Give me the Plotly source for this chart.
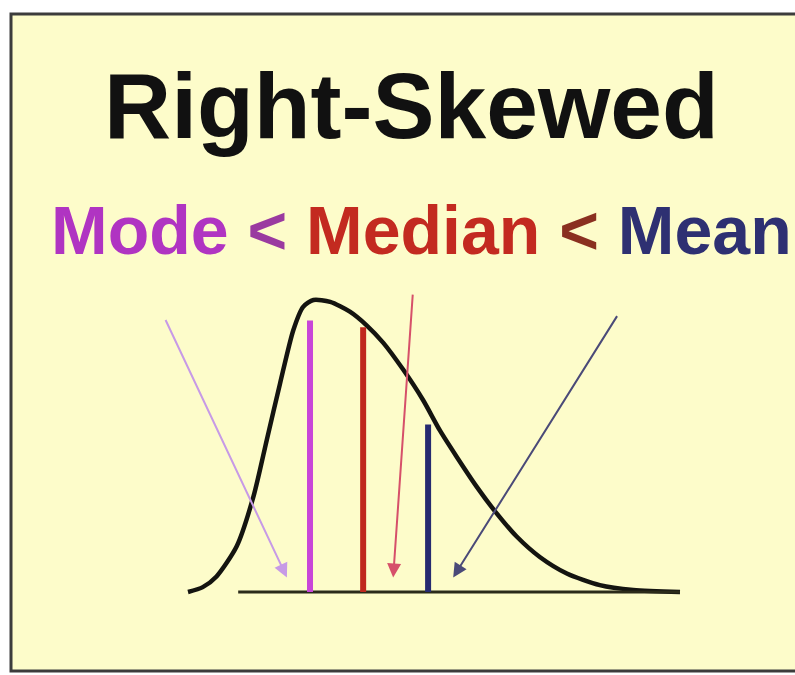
import plotly.graph_objects as go

# Right-skewed density curve (value, density)
curve_x = [0.0, 0.30, 0.58, 0.99, 1.33, 1.60, 1.87, 2.14, 2.34, 2.55, 2.89, 3.29,
           3.63, 3.97, 4.38, 4.78, 5.12, 5.46, 5.87, 6.27, 6.68, 7.15, 7.70, 8.37,
           9.05, 10.0]
curve_y = [0.000, 0.005, 0.016, 0.047, 0.098, 0.156, 0.214, 0.269, 0.293, 0.300,
           0.298, 0.288, 0.274, 0.256, 0.228, 0.197, 0.166, 0.139, 0.108, 0.081,
           0.057, 0.036, 0.019, 0.007, 0.002, 0.000]

# Horizontal axis line under the curve
baseline_x = [1.02, 10.0]

# Centre measures: name, position, line height, line colour, arrow colour
measure_names = ["Mode", "Median", "Mean"]
measure_x = [2.48, 3.56, 4.88]
measure_top = [0.279, 0.272, 0.172]
measure_colors = ["#c845d8", "#c0281e", "#262a70"]
text_colors = ["#b034c2", "#c32a20", "#2e3072"]
arrow_colors = ["#c79ae6", "#d6506a", "#4a4a78"]

# Arrow tails (value, density) and heads
arrow_tail_x = [-0.47, 4.57, 8.74]
arrow_tail_y = [0.281, 0.307, 0.285]
arrow_head_x = [2.01, 4.17, 5.39]
arrow_head_y = [0.015, 0.015, 0.015]

title_text = "Right-Skewed"
sep_colors = ["#9a3aa0", "#8a3020"]

W, H = 795, 675

fig = go.Figure()

fig.add_trace(go.Scatter(
    x=curve_x, y=curve_y, mode="lines",
    line=dict(color="#141410", width=4.5, shape="spline", smoothing=0.7),
    hoverinfo="skip", showlegend=False,
))

fig.add_trace(go.Scatter(
    x=baseline_x, y=[0, 0], mode="lines",
    line=dict(color="#2b2b1a", width=3),
    hoverinfo="skip", showlegend=False,
))

for name, mx, top, col in zip(measure_names, measure_x, measure_top, measure_colors):
    fig.add_trace(go.Scatter(
        x=[mx, mx], y=[0, top], mode="lines", name=name,
        line=dict(color=col, width=6),
        hoverinfo="skip", showlegend=False,
    ))

for tx, ty, hx, hy, col in zip(arrow_tail_x, arrow_tail_y, arrow_head_x, arrow_head_y, arrow_colors):
    fig.add_annotation(
        x=hx, y=hy, ax=tx, ay=ty, xref="x", yref="y", axref="x", ayref="y",
        text="", showarrow=True, arrowhead=2, arrowsize=1.4, arrowwidth=2,
        arrowcolor=col, standoff=0,
    )

# Title and ordering statement
fig.add_annotation(
    x=411 / W, y=1 - 106 / H, xref="paper", yref="paper",
    text="<b>" + title_text + "</b>", showarrow=False,
    xanchor="center", yanchor="middle",
    font=dict(family="Liberation Sans, Arial, sans-serif", size=93, color="#111111"),
)

subtitle = (
    f'<span style="color:{text_colors[0]}">{measure_names[0]}</span>'
    f' <span style="color:{sep_colors[0]}">&lt;</span> '
    f'<span style="color:{text_colors[1]}">{measure_names[1]}</span>'
    f' <span style="color:{sep_colors[1]}">&lt;</span> '
    f'<span style="color:{text_colors[2]}">{measure_names[2]}</span>'
)
fig.add_annotation(
    x=421 / W, y=1 - 230 / H, xref="paper", yref="paper",
    text="<b>" + subtitle + "</b>", showarrow=False,
    xanchor="center", yanchor="middle",
    font=dict(family="Liberation Sans, Arial, sans-serif", size=68),
)

# Framed light-yellow panel
fig.add_shape(
    type="rect", xref="paper", yref="paper",
    x0=11 / W, x1=1.02, y0=1 - 671 / H, y1=1 - 14 / H,
    line=dict(color="#3c3c3c", width=3), fillcolor="#fdfcca", layer="below",
)

# Axis ranges chosen so value 0..10 spans the curve and density 0 sits on the baseline
fig.update_xaxes(range=[-3.8211, 12.3374], visible=False, showgrid=False, zeroline=False)
fig.update_yaxes(range=[-0.08527, 0.60822], visible=False, showgrid=False, zeroline=False)

fig.update_layout(
    width=W, height=H,
    margin=dict(l=0, r=0, t=0, b=0),
    paper_bgcolor="white", plot_bgcolor="rgba(0,0,0,0)",
    showlegend=False,
)

fig.write_html("out.html")
